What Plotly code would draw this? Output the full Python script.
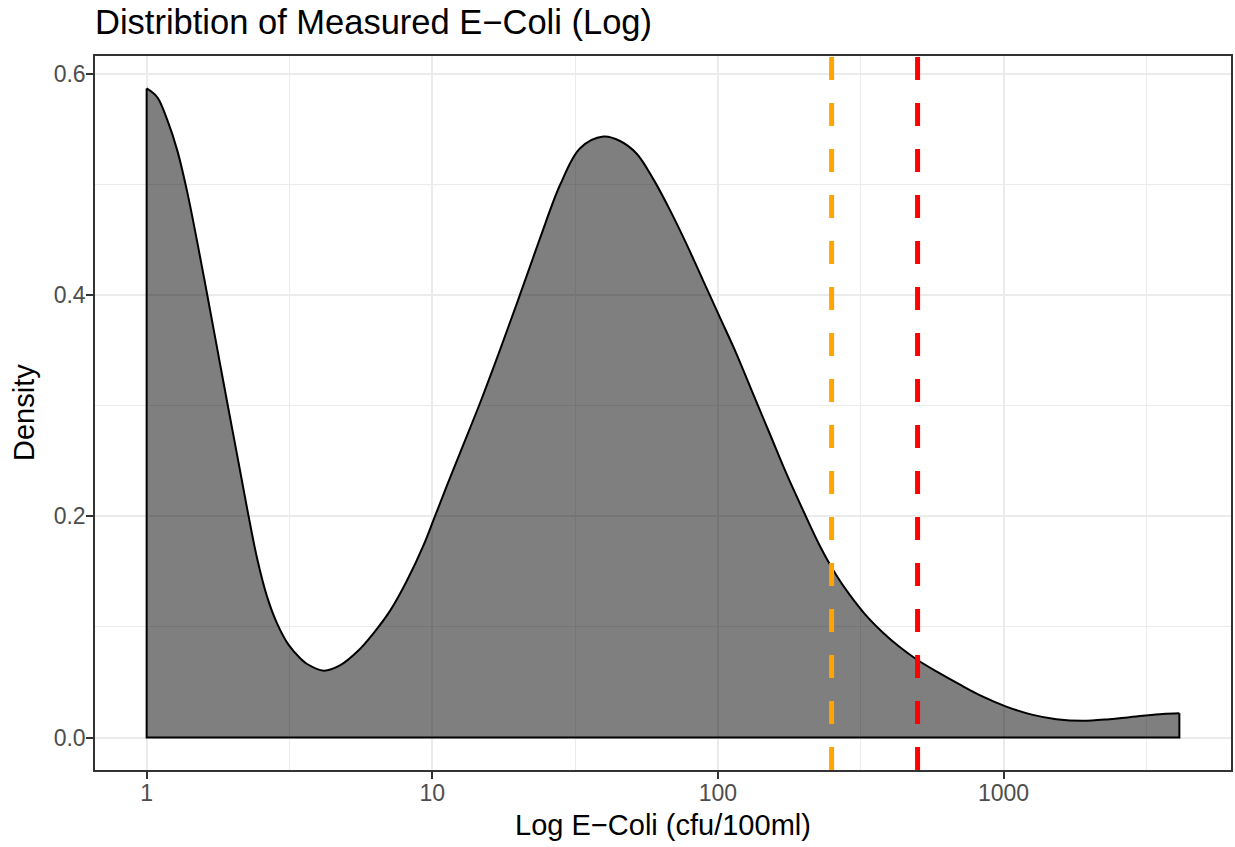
import math
import plotly.graph_objects as go

# ---- data ----
ecoli = [1.000, 1.090, 1.181, 1.280, 1.388, 1.504, 1.631, 1.767, 1.915, 2.076,
         2.250, 2.438, 2.643, 2.864, 3.137, 3.455, 3.646, 4.168, 4.768, 5.454,
         6.233, 7.131, 8.156, 9.324, 10.11, 11.26, 12.53, 14.72, 17.29, 20.31,
         23.86, 28.03, 32.93, 39.72, 45.43, 51.96, 59.41, 67.95, 77.72, 88.84,
         101.6, 116.3, 132.9, 152.0, 173.9, 198.8, 227.3, 260.1, 289.4, 331.1,
         378.5, 432.9, 495.2, 581.9, 701.9, 846.5, 1022, 1266, 1529, 1894,
         2348, 2911, 3606, 4125]
density = [0.587, 0.579, 0.5585, 0.531, 0.493, 0.448, 0.400, 0.3515, 0.303, 0.255,
           0.2066, 0.1617, 0.127, 0.103, 0.084, 0.0715, 0.0665, 0.0605, 0.0655, 0.0775,
           0.0945, 0.115, 0.142, 0.174, 0.197, 0.228, 0.258, 0.303, 0.351, 0.401,
           0.4518, 0.4999, 0.533, 0.5435, 0.5395, 0.528, 0.505, 0.477, 0.446, 0.413,
           0.380, 0.3466, 0.3105, 0.2745, 0.2384, 0.2053, 0.1735, 0.1465, 0.129, 0.110,
           0.0948, 0.0818, 0.0708, 0.0598, 0.048, 0.037, 0.028, 0.0205, 0.0166, 0.0151,
           0.0166, 0.019, 0.0214, 0.022]

thresholds = [250, 500]
threshold_colors = ["orange", "red"]

x_tickvals = [1, 10, 100, 1000]
x_ticktext = ["1", "10", "100", "1000"]
y_tickvals = [0.0, 0.2, 0.4, 0.6]
y_ticktext = ["0.0", "0.2", "0.4", "0.6"]
y_minor = [0.1, 0.3, 0.5]

title_text = "Distribtion of Measured E\u2212Coli (Log)"
x_title = "Log E\u2212Coli (cfu/100ml)"
y_title = "Density"

# ---- ranges (ggplot-like 5% expansion) ----
lx0, lx1 = math.log10(min(ecoli)), math.log10(max(ecoli))
px = 0.05 * (lx1 - lx0)
x_range = [lx0 - px, lx1 + px]
y_hi = max(density)
y_range = [-0.05 * y_hi, y_hi * 1.05]
x_minor = [math.sqrt(a * b) for a, b in zip(x_tickvals[:-1], x_tickvals[1:])]
x_minor.append(x_tickvals[-1] * math.sqrt(10))

FONT = "Liberation Sans, Arial, Helvetica, sans-serif"
W, H = 1235, 847
ML, MR, MT, MB = 95, 4, 56, 77

fig = go.Figure()

# filled density with smooth outline
fig.add_trace(go.Scatter(
    x=ecoli, y=density, mode="lines", fill="tozeroy",
    fillcolor="rgba(0,0,0,0.5)",
    line=dict(color="black", width=2, shape="spline", smoothing=1.0),
    hoverinfo="skip", showlegend=False))

# vertical edges + baseline of the density polygon
fig.add_trace(go.Scatter(
    x=[ecoli[-1], ecoli[-1], ecoli[0], ecoli[0]],
    y=[density[-1], 0, 0, density[0]],
    mode="lines", line=dict(color="black", width=2),
    hoverinfo="skip", showlegend=False))

# threshold lines
for t, c in zip(thresholds, threshold_colors):
    fig.add_trace(go.Scatter(
        x=[t, t], y=[y_range[0], y_range[1]], mode="lines",
        line=dict(color=c, width=5, dash="23px,23px"),
        hoverinfo="skip", showlegend=False, cliponaxis=True))

axis_common = dict(
    showline=True, linecolor="#333333", linewidth=1.5, mirror=True,
    ticks="outside", ticklen=7, tickwidth=1.5, tickcolor="#333333",
    tickfont=dict(family=FONT, size=23, color="#4D4D4D"),
    showgrid=True, gridcolor="#EBEBEB", gridwidth=1.5,
    zeroline=False, automargin=False,
)

fig.update_layout(
    width=W, height=H,
    margin=dict(l=ML, r=MR, t=MT, b=MB),
    paper_bgcolor="white", plot_bgcolor="white",
    font=dict(family=FONT, color="black"),
    title=dict(text=title_text, x=95 / W, xanchor="left", xref="container",
               y=1 - 22 / H, yanchor="middle", yref="container",
               font=dict(family=FONT, size=34.5, color="black")),
    xaxis=dict(type="log", range=x_range, tickmode="array",
               tickvals=x_tickvals, ticktext=x_ticktext,
               ticklabelstandoff=-5,
               minor=dict(tickmode="array", tickvals=x_minor, showgrid=True,
                          gridcolor="#EBEBEB", gridwidth=0.8, ticks=""),
               title=dict(text=x_title, font=dict(family=FONT, size=29, color="black"),
                          standoff=9),
               **axis_common),
    yaxis=dict(range=y_range, tickmode="array",
               tickvals=y_tickvals, ticktext=y_ticktext,
               ticklabelstandoff=-4,
               minor=dict(tickmode="array", tickvals=y_minor, showgrid=True,
                          gridcolor="#EBEBEB", gridwidth=0.8, ticks=""),
               **axis_common),
    annotations=[dict(text=y_title, textangle=-90, xref="paper", yref="paper",
                      x=(24 - ML) / (W - ML - MR), y=0.5,
                      xanchor="center", yanchor="middle", showarrow=False,
                      font=dict(family=FONT, size=29, color="black"))],
)

fig.write_html("out.html", config={"displayModeBar": False},
               post_script="document.body.style.margin='0';")
